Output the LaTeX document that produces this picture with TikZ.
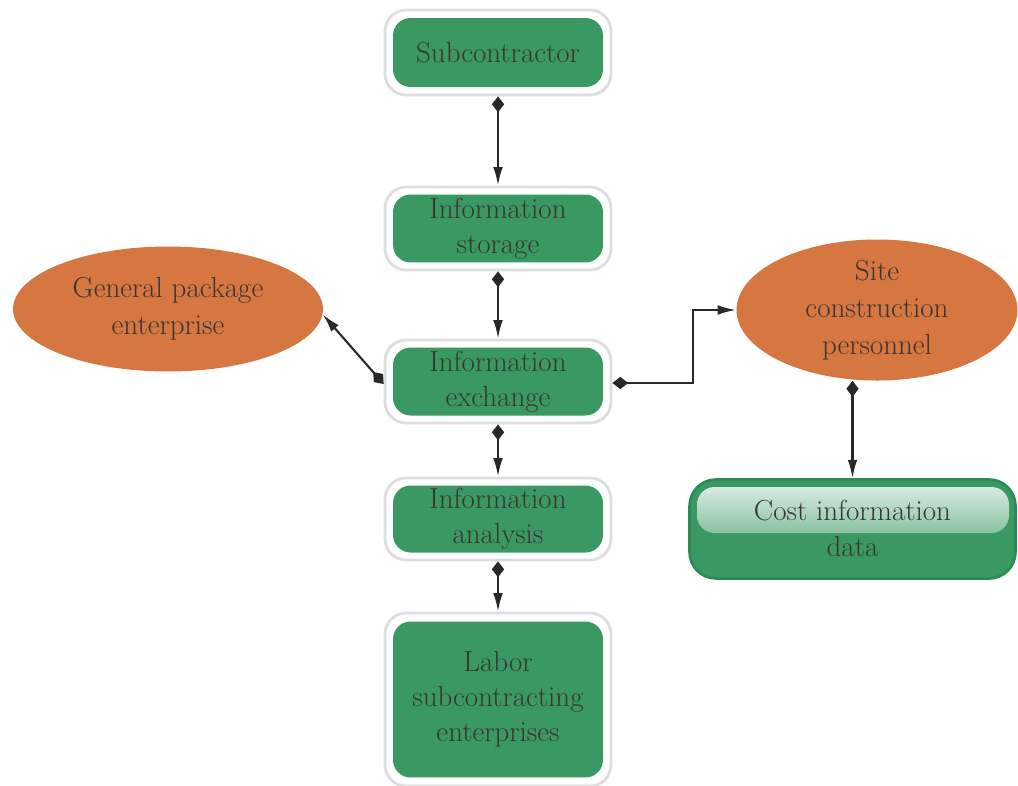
\documentclass[tikz,border=0pt]{standalone}
\usetikzlibrary{arrows.meta,shapes.geometric}
\definecolor{boxgreen}{RGB}{58,152,98}
\definecolor{darkgreen}{RGB}{44,138,84}
\definecolor{ovalorange}{RGB}{214,118,64}
\definecolor{framegray}{RGB}{222,222,222}
\definecolor{labeltext}{RGB}{58,52,52}
\definecolor{linkgray}{RGB}{40,40,40}
\tikzset{
  frame/.style={draw=framegray, line width=1.6pt, fill=white, rounded corners=12,
    minimum width=4.52cm, inner sep=0pt},
  greenbox/.style={fill=boxgreen, rounded corners=10, minimum width=4.2cm,
    text=labeltext, align=center, inner sep=0pt,
    font=\fontsize{16.5}{20}\selectfont},
  oval/.style={ellipse, fill=ovalorange, inner sep=0pt, text=labeltext,
    align=center, font=\fontsize{16.5}{21}\selectfont},
  link/.style={draw=linkgray, line width=1.2pt,
    {Diamond[length=9pt,width=7pt]}-{Latex[length=10.5pt,width=5.5pt]}},
}
\begin{document}
\begin{tikzpicture}[x=0.02cm,y=-0.02cm]
\useasboundingbox (0,0) rectangle (1018,785);

% central column: framed green boxes
\node[frame, minimum height=1.70cm] (fsub) at (498,52.5) {};
\node[greenbox, minimum height=1.38cm] (sub) at (498,52.5) {Subcontractor};

\node[frame, minimum height=1.66cm] (fsto) at (498,228.5) {};
\node[greenbox, minimum height=1.36cm] (sto) at (498,228.5) {Information\\storage};

\node[frame, minimum height=1.66cm] (fex) at (498,381.5) {};
\node[greenbox, minimum height=1.36cm] (ex) at (498,381.5) {Information\\exchange};

\node[frame, minimum height=1.64cm] (fan) at (498,519) {};
\node[greenbox, minimum height=1.34cm] (an) at (498,519) {Information\\analysis};

\node[frame, minimum height=3.46cm] (flab) at (498,699.5) {};
\node[greenbox, minimum height=3.12cm] (lab) at (498,699.5) {Labor\\subcontracting\\enterprises};

% side ellipses
\node[oval, minimum width=6.2cm, minimum height=2.5cm] (gp) at (168,309) {General package\\enterprise};
\node[oval, minimum width=5.62cm, minimum height=2.8cm] (site) at (877,310) {Site\\construction\\personnel};

% cost data box with glossy top band
\node[fill=boxgreen, draw=darkgreen, line width=1.5pt, rounded corners=15,
  minimum width=6.52cm, minimum height=1.98cm, inner sep=0pt] (cost) at (852.5,529) {};
\shade[top color=white!80!boxgreen, bottom color=white!40!boxgreen, rounded corners=10]
  (697,487) rectangle (1009,533);
\node[text=labeltext, align=center, font=\fontsize{16.5}{20.5}\selectfont] (costtxt)
  at (852.5,528) {Cost information\\data};

% connectors
\coordinate (bend) at (693,0);
\draw[link] (fsub.south) -- (fsto.north);
\draw[link] (fsto.south) -- (fex.north);
\draw[link] (fex.south) -- (fan.north);
\draw[link] (fan.south) -- (flab.north);
\draw[link] ([yshift=-0.05cm]fex.west) -- (gp.-2);
\draw[link] ([yshift=-0.03cm]fex.east) -- ([yshift=-0.03cm]fex.east -| bend) |- (site.west);
\draw[link] (cost.north |- site.south) -- (cost.north);
\end{tikzpicture}
\end{document}
